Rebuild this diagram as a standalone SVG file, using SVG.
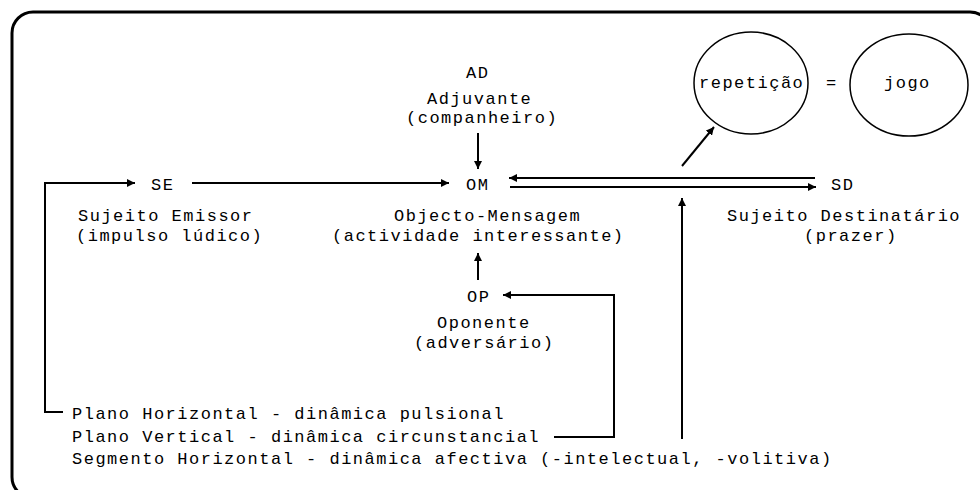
<svg xmlns="http://www.w3.org/2000/svg" width="980" height="490" viewBox="0 0 980 490">
<defs>
<style>
text{font-family:"Liberation Mono","DejaVu Sans Mono",monospace;font-size:17px;letter-spacing:1.5px;fill:#000}
.c{fill:none;stroke:#000;stroke-width:2}
.e{fill:none;stroke:#000;stroke-width:1.5}
</style>
<marker id="ah" viewBox="0 0 8 8" refX="8" refY="4" markerWidth="8" markerHeight="8" markerUnits="userSpaceOnUse" orient="auto">
<path d="M0,0 L8,4 L0,8 z" fill="#000"/>
</marker>
</defs>
<rect width="980" height="490" fill="#fff"/>
<rect id="frame" x="12" y="12" width="979" height="486" rx="21" ry="21" fill="none" stroke="#000" stroke-width="3"/>

<g id="AD">
<text x="466" y="78">AD</text>
<text x="427" y="104">Adjuvante</text>
<text x="406" y="123">(companheiro)</text>
</g>
<g id="SE">
<text x="151" y="190">SE</text>
<text x="78" y="221">Sujeito Emissor</text>
<text x="76" y="241">(impulso lúdico)</text>
</g>
<g id="OM">
<text x="466" y="190">OM</text>
<text x="394" y="221">Objecto-Mensagem</text>
<text x="332" y="241">(actividade interessante)</text>
</g>
<g id="OP">
<text x="467" y="302">OP</text>
<text x="437" y="328">Oponente</text>
<text x="414" y="348">(adversário)</text>
</g>
<g id="SD">
<text x="831" y="190">SD</text>
<text x="727" y="221">Sujeito Destinatário</text>
<text x="804" y="241">(prazer)</text>
</g>
<g id="repeticao">
<ellipse class="e" cx="751" cy="83" rx="57" ry="51"/>
<text x="699" y="88">repetição</text>
</g>
<g id="equals">
<text x="826" y="88">=</text>
</g>
<g id="jogo">
<ellipse class="e" cx="909" cy="85" rx="59" ry="51"/>
<text x="884" y="88">jogo</text>
</g>
<g id="legend">
<text x="72" y="419">Plano Horizontal - dinâmica pulsional</text>
<text x="72" y="442">Plano Vertical - dinâmica circunstancial</text>
<text x="72" y="464">Segmento Horizontal - dinâmica afectiva (-intelectual, -volitiva)</text>
</g>

<g id="connectors">
<line class="c" x1="478" y1="133" x2="478" y2="169" marker-end="url(#ah)"/>
<line class="c" x1="192" y1="183" x2="449" y2="183" marker-end="url(#ah)"/>
<polyline class="c" points="63,412 45,412 45,183 135,183" marker-end="url(#ah)"/>
<line class="c" x1="478" y1="280" x2="478" y2="253" marker-end="url(#ah)"/>
<polyline class="c" points="554,437 614,437 614,295 503,295" marker-end="url(#ah)"/>
<line class="c" x1="815" y1="178" x2="509" y2="178" marker-end="url(#ah)"/>
<line class="c" x1="510" y1="187" x2="816" y2="187" marker-end="url(#ah)"/>
<line class="c" x1="682" y1="439" x2="682" y2="198" marker-end="url(#ah)"/>
<line class="c" x1="682" y1="166" x2="714" y2="127" stroke-width="1.5" marker-end="url(#ah)"/>
</g>
</svg>
